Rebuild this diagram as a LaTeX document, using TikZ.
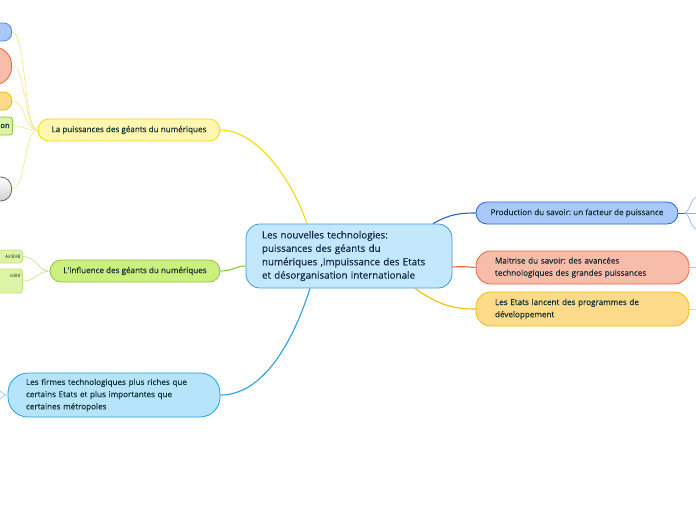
\documentclass[tikz,border=0pt]{standalone}
\usepackage{fontspec}
\setmainfont{Open Sans}[AutoFakeBold=0.3]
\frenchspacing
\definecolor{txt}{HTML}{0F3030}
\definecolor{centxt}{HTML}{122848}
\definecolor{cenfill}{HTML}{C4E8FB}
\definecolor{cenline}{HTML}{3A9BD8}
\definecolor{yelfill}{HTML}{FFF6B0}
\definecolor{yelline}{HTML}{F2D90A}
\definecolor{grnfill}{HTML}{CDEF7E}
\definecolor{grnline}{HTML}{8CC43C}
\definecolor{bluefill}{HTML}{B6E4FB}
\definecolor{blueline}{HTML}{22A2E2}
\definecolor{prodfill}{HTML}{A9C9FB}
\definecolor{prodline}{HTML}{2166D8}
\definecolor{maitfill}{HTML}{F8BCAA}
\definecolor{maitline}{HTML}{F0643A}
\definecolor{etfill}{HTML}{FDDB8A}
\definecolor{etline}{HTML}{FBB800}
\definecolor{ltyel}{HTML}{F4E488}
\definecolor{ltgrn}{HTML}{C2E27E}
\definecolor{ltblue}{HTML}{8EC8EE}
\definecolor{ltprod}{HTML}{88AEF0}
\definecolor{smgrnfill}{HTML}{DDF4A6}
\begin{document}
\begin{tikzpicture}[x=1pt,y=-1pt,
  box/.style={draw, line width=0.8pt, inner sep=0pt, text=txt, font=\fontsize{8.1}{12.2}\selectfont\bfseries},
  pill/.style={box, rounded corners=11pt, minimum height=22pt},
  conn/.style={line width=1.1pt},
  thin/.style={line width=0.6pt}]
\useasboundingbox (0,0) rectangle (696,520);

% central
\node[box, fill=cenfill, draw=cenline, minimum width=206pt, minimum height=64pt,
  rounded corners=14pt, text width=174pt, align=left,
  font=\fontsize{9.8}{13.4}\selectfont\bfseries, text=centxt] (central) at (349,256)
  {Les nouvelles technologies:\\ puissances des géants du\\ numériques ,impuissance des Etats\\ et désorganisation internationale};

% left main nodes
\node[pill, fill=yelfill, draw=yelline, minimum width=182pt] (yel) at (129,130)
  {La puissances des géants du numériques};
\node[pill, fill=grnfill, draw=grnline, minimum width=170pt] (grn) at (135,271)
  {L\textquotesingle influence des géants du numériques};
\node[box, fill=bluefill, draw=blueline, minimum width=212pt, minimum height=44pt,
  rounded corners=20pt, text width=176pt, align=left] (firm) at (114,395)
  {Les firmes technologiques plus riches que\\ certains Etats et plus importantes que\\ certaines métropoles};

% right main nodes
\node[pill, fill=prodfill, draw=prodline, minimum width=202pt] (prod) at (577,213)
  {Production du savoir: un facteur de puissance};
\node[box, fill=maitfill, draw=maitline, minimum width=213pt, minimum height=33pt,
  rounded corners=15pt, text width=175pt, align=left] (mait) at (582.5,267.5)
  {Maitrise du savoir: des avancées\\ technologiques des grandes puissances};
\node[box, fill=etfill, draw=etline, minimum width=213pt, minimum height=34pt,
  rounded corners=15pt, text width=175pt, align=left] (etats) at (582.5,309)
  {Les Etats lancent des programmes de\\ développement};

% left partial nodes
\node[box, fill=prodfill, draw=prodline!80, minimum width=60pt, minimum height=18pt,
  rounded corners=8pt, anchor=east] (l1) at (12,32) {};
\node[box, fill=maitfill, draw=maitline, minimum width=80pt, minimum height=38pt,
  rounded corners=18pt, anchor=east] (l2) at (12,66) {};
\node[box, fill=etfill, draw=etline, minimum width=60pt, minimum height=18pt,
  rounded corners=8pt, anchor=east] (l3) at (12,101) {};
\node[box, fill=smgrnfill, draw=grnline, minimum width=60pt, minimum height=18pt,
  rounded corners=3pt, anchor=east, text width=54pt, align=right,
  font=\fontsize{7.5}{9}\selectfont\bfseries] (l4) at (13,126) {on};
\node[box, top color=white, bottom color=black!18, draw=black!60, minimum width=60pt,
  minimum height=24pt, rounded corners=11pt, anchor=east] (l5) at (12,189) {};

\node[box, fill=smgrnfill, draw=ltgrn, minimum width=50pt, minimum height=13pt,
  rounded corners=3pt, anchor=east, text width=46pt, align=right,
  font=\fontsize{4.8}{6}\selectfont] (g1) at (23,256.5) {AirBnB};
\node[box, fill=smgrnfill, draw=ltgrn, minimum width=50pt, minimum height=24pt,
  rounded corners=3pt, anchor=east, text width=46pt, align=right,
  font=\fontsize{4.8}{6}\selectfont] (g2) at (23,281) {ciété\\[5pt]~};

% free ends
\coordinate (pf) at (684,213);
\coordinate (p1) at (697,197);
\coordinate (p2) at (697,213);
\coordinate (p3) at (697,229);
\coordinate (m1) at (697,267.5);
\coordinate (e1) at (697,309);
\coordinate (f0) at (5,395);
\coordinate (f1) at (-1,390);
\coordinate (f2) at (-1,400);

% main connectors
\draw[conn, draw=yelline] ([xshift=-42pt]central.north) .. controls (290,175) and (255,130) .. (yel.east);
\draw[conn, draw=grnline] ([yshift=-10pt]central.west) .. controls (236,266) and (232,271) .. (grn.east);
\draw[conn, draw=blueline] ([xshift=-39pt]central.south) .. controls (292,345) and (262,395) .. (firm.east);
\draw[conn, draw=prodline] ([xshift=84pt]central.north) .. controls (450,214) and (460,213) .. (prod.west);
\draw[conn, draw=maitline] ([yshift=-11pt]central.east) .. controls (462,266.5) .. (mait.west);
\draw[conn, draw=etline] ([xshift=66pt]central.south) .. controls (440,306) and (455,309) .. (etats.west);

% yellow fan
\foreach \n in {l1,l2,l3,l4,l5}
  \draw[thin, draw=ltyel] (yel.west) .. controls (24,130) and (26,0|-\n.east) .. (\n.east);
% green fan
\draw[thin, draw=ltgrn] (grn.west) .. controls (38,271) and (36,256.5) .. (g1.east);
\draw[thin, draw=ltgrn] (grn.west) .. controls (38,271) and (36,281) .. (g2.east);
% blue stub
\draw[thin, draw=ltblue] (firm.west) -- (f0) -- (f1);
\draw[thin, draw=ltblue] (f0) -- (f2);
% right stubs
\draw[thin, draw=prodline] (prod.east) -- (pf);
\draw[thin, draw=ltprod] (pf) .. controls (690,213) and (690,198) .. (p1);
\draw[thin, draw=ltprod] (pf) -- (p2);
\draw[thin, draw=ltprod] (pf) .. controls (690,213) and (690,228) .. (p3);
\draw[thin, draw=maitfill!80!maitline] (mait.east) -- (m1);
\draw[thin, draw=etfill!80!etline] (etats.east) -- (e1);
\end{tikzpicture}
\end{document}
